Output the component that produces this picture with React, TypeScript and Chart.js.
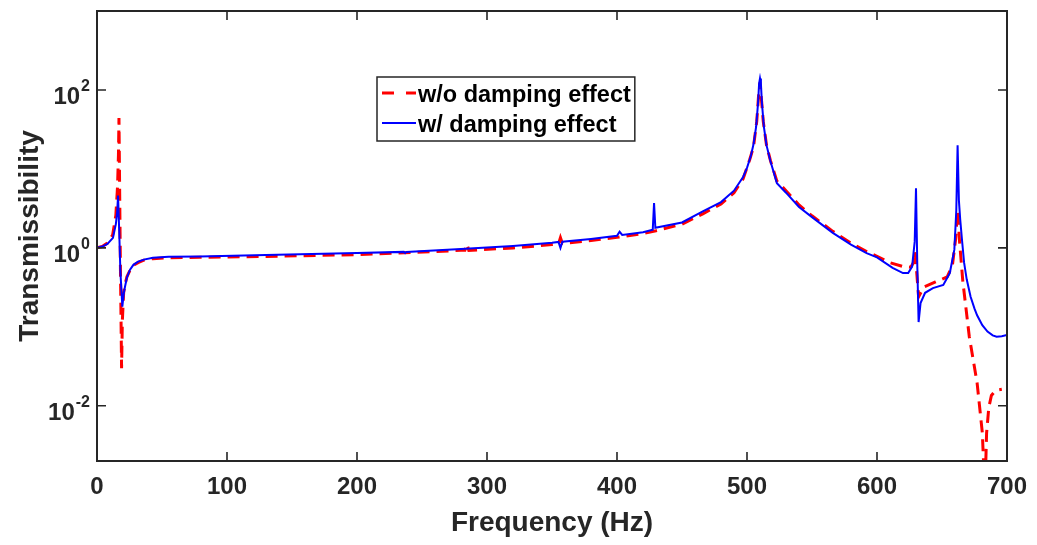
import React, { useEffect, useRef } from 'react';
import { Chart, registerables } from 'chart.js';

Chart.register(...registerables);

// ---- Data ----
const seriesLabels = ['w/o damping effect', 'w/ damping effect'];

const freqUndamped = [
  0, 4, 8, 12, 14.5, 15.8, 16.5, 16.9, 17.4, 18, 18.5, 18.9, 19.5, 20.5, 21.5, 23, 25.4, 28, 31.6, 36, 43, 55, 79,
  130, 200, 280, 283, 284.5, 286, 320, 350, 355, 356.5, 358, 380, 400, 420, 430, 450, 466, 480, 490, 497, 502,
  505, 507.5, 509, 510, 511, 512.5, 515, 518, 523, 530, 540, 550, 566, 580, 592, 600, 610, 620, 626, 628, 629.3,
  630.5, 632, 636, 645, 654, 658, 660.5, 662, 663.5, 666, 671, 677, 681, 682.5, 683.5, 684.3, 686, 688, 691, 694,
  696,
];
const transUndamped = [
  1.0, 1.04, 1.15, 1.45, 2.6, 6, 15, 44, 6, 0.6, 0.12, 0.03, 0.12, 0.27, 0.34, 0.43, 0.52, 0.6, 0.65, 0.7, 0.73,
  0.75, 0.76, 0.78, 0.82, 0.93, 0.93, 1.12, 0.93, 1.0, 1.1, 1.12, 1.35, 1.14, 1.24, 1.36, 1.52, 1.65, 2.0, 2.7,
  3.6, 5.0, 7.5, 13, 19, 40, 90, 125, 80, 40, 20, 12.8, 7.0, 5.3, 3.5, 2.55, 1.62, 1.15, 0.9, 0.78, 0.65, 0.58,
  0.57, 0.65, 0.9, 0.5, 0.24, 0.32, 0.37, 0.43, 0.6, 1.3, 3.0, 1.2, 0.38, 0.075, 0.0195, 0.0046, 0.0012, 0.0015,
  0.0045, 0.0095, 0.0135, 0.0155, 0.016, 0.0162,
];

const freqDamped = [
  0, 4, 8, 12.3, 14.5, 15.5, 16.2, 17, 18, 19.5, 20.5, 21.5, 23, 25.4, 28, 31.6, 36, 43, 55, 79, 130, 200, 236,
  237, 238, 280, 320, 350, 355, 356.5, 358, 380, 400, 402, 404, 420, 427.5, 428.5, 429.5, 450, 466, 480, 490,
  497, 500, 503, 505, 507, 508.5, 509.3, 510, 510.7, 511.5, 513, 515, 518, 523, 530, 540, 550, 566, 580, 592,
  600, 612, 620, 624, 627, 629, 630, 631, 632, 633.5, 637, 643, 651, 656, 659.5, 661, 662, 663, 664, 665.5, 667,
  669, 672, 675, 677, 681, 685, 689, 692, 696, 700,
];
const transDamped = [
  1.0, 1.04, 1.12, 1.34, 2.0, 2.8, 4.6, 1.8, 0.5, 0.18, 0.26, 0.32, 0.42, 0.53, 0.61, 0.67, 0.71, 0.75, 0.77,
  0.78, 0.81, 0.86, 0.89, 0.86, 0.89, 0.97, 1.06, 1.16, 1.19, 1.0, 1.2, 1.3, 1.42, 1.6, 1.46, 1.58, 1.7, 3.7,
  1.8, 2.1, 2.9, 3.8, 5.3, 7.9, 10.3, 14.7, 20.5, 34, 68, 120, 140, 120, 68, 34, 20, 12.6, 6.6, 5.0, 3.3, 2.45,
  1.55, 1.1, 0.86, 0.76, 0.56, 0.48, 0.48, 0.58, 1.2, 5.7, 0.6, 0.115, 0.2, 0.27, 0.31, 0.34, 0.48, 0.95, 3.0,
  20, 4.0, 2.3, 1.2, 0.65, 0.4, 0.24, 0.17, 0.14, 0.105, 0.087, 0.078, 0.075, 0.076, 0.079,
];

const xTickValues = [0, 100, 200, 300, 400, 500, 600, 700];
const yTickExponents = [-2, 0, 2];
const yMin = 0.002;
const yMax = 1000;

const FONT = '"Liberation Sans", Arial, Helvetica, sans-serif';
const AXIS_COLOR = '#262626';
const RED = '#FF0000';
const BLUE = '#0000FF';

export default function App() {
  const canvasRef = useRef<HTMLCanvasElement>(null);

  useEffect(() => {
    const canvas = canvasRef.current;
    if (!canvas) return;

    const framePlugin = {
      id: 'matlabFrame',
      afterDatasetsDraw(chart: any) {
        const { ctx, chartArea: a, scales } = chart;
        const xs = scales.x;
        const ys = scales.y;
        ctx.save();
        // box
        ctx.strokeStyle = AXIS_COLOR;
        ctx.lineWidth = 2;
        ctx.strokeRect(a.left, a.top, a.right - a.left, a.bottom - a.top);
        // inward ticks
        const TL = 9;
        ctx.lineWidth = 1.6;
        ctx.beginPath();
        for (const t of xs.ticks) {
          const px = xs.getPixelForValue(t.value);
          if (px <= a.left + 1 || px >= a.right - 1) continue;
          ctx.moveTo(px, a.bottom);
          ctx.lineTo(px, a.bottom - TL);
          ctx.moveTo(px, a.top);
          ctx.lineTo(px, a.top + TL);
        }
        for (const t of ys.ticks) {
          const py = ys.getPixelForValue(t.value);
          ctx.moveTo(a.left, py);
          ctx.lineTo(a.left + TL, py);
          ctx.moveTo(a.right, py);
          ctx.lineTo(a.right - TL, py);
        }
        ctx.stroke();

        // y tick labels with superscript exponents
        ctx.fillStyle = AXIS_COLOR;
        ctx.textBaseline = 'alphabetic';
        for (const t of ys.ticks) {
          const py = ys.getPixelForValue(t.value);
          const exp = String(Math.round(Math.log10(t.value)));
          ctx.font = `bold 16px ${FONT}`;
          const ew = ctx.measureText(exp).width;
          const rightEdge = a.left - 7;
          const ex = rightEdge - ew;
          ctx.textAlign = 'left';
          ctx.fillText(exp, ex, py + 1);
          ctx.font = `bold 24px ${FONT}`;
          ctx.textAlign = 'right';
          ctx.fillText('10', ex - 1, py + 14);
        }

        // legend box
        const bx = a.left + 280;
        const by = a.top + 66;
        ctx.font = `bold 23.5px ${FONT}`;
        const tw = Math.max(...seriesLabels.map((s) => ctx.measureText(s).width));
        const tx = a.left + 321;
        const bw = tx + tw + 4 - bx;
        const bh = 64;
        ctx.fillStyle = '#FFFFFF';
        ctx.fillRect(bx, by, bw, bh);
        ctx.strokeStyle = AXIS_COLOR;
        ctx.lineWidth = 1.5;
        ctx.strokeRect(bx, by, bw, bh);
        // samples
        ctx.lineWidth = 3;
        ctx.strokeStyle = RED;
        ctx.setLineDash([12, 12]);
        ctx.beginPath();
        ctx.moveTo(a.left + 285, a.top + 82);
        ctx.lineTo(a.left + 319, a.top + 82);
        ctx.stroke();
        ctx.setLineDash([]);
        ctx.lineWidth = 2;
        ctx.strokeStyle = BLUE;
        ctx.beginPath();
        ctx.moveTo(a.left + 285, a.top + 112);
        ctx.lineTo(a.left + 319, a.top + 112);
        ctx.stroke();
        ctx.fillStyle = '#000000';
        ctx.textAlign = 'left';
        ctx.fillText(seriesLabels[0], tx, a.top + 91);
        ctx.fillText(seriesLabels[1], tx, a.top + 121);
        ctx.restore();
      },
    };

    const chart = new Chart(canvas, {
      type: 'line',
      data: {
        datasets: [
          {
            label: seriesLabels[1],
            data: freqDamped.map((f, i) => ({ x: f, y: transDamped[i] })),
            borderColor: BLUE,
            borderWidth: 2,
            pointRadius: 0,
            tension: 0,
            fill: false,
            order: 0,
            clip: 0,
          },
          {
            label: seriesLabels[0],
            data: freqUndamped.map((f, i) => ({ x: f, y: transUndamped[i] })),
            borderColor: RED,
            borderWidth: 3,
            borderDash: [12, 7],
            pointRadius: 0,
            tension: 0,
            fill: false,
            order: 1,
            clip: 0,
          },
        ],
      },
      options: {
        animation: false,
        responsive: true,
        maintainAspectRatio: false,
        layout: { padding: { top: 3, right: 22, bottom: 0, left: 0 } },
        plugins: { legend: { display: false }, tooltip: { enabled: false } },
        scales: {
          x: {
            type: 'linear',
            min: 0,
            max: 700,
            afterBuildTicks: (scale: any) => {
              scale.ticks = xTickValues.map((v) => ({ value: v }));
            },
            ticks: {
              font: { family: FONT, size: 24, weight: 'bold' },
              color: AXIS_COLOR,
              padding: 12,
              maxRotation: 0,
              autoSkip: false,
            },
            grid: { display: false, drawTicks: false },
            border: { display: false },
            title: {
              display: true,
              text: 'Frequency (Hz)',
              font: { family: FONT, size: 28, weight: 'bold' },
              color: AXIS_COLOR,
              padding: { top: 0, bottom: -3 },
            },
            afterFit: (scale: any) => {
              scale.height = 76;
              scale.paddingLeft = 0;
              scale.paddingRight = 0;
            },
          },
          y: {
            type: 'logarithmic',
            min: yMin,
            max: yMax,
            afterBuildTicks: (scale: any) => {
              scale.ticks = yTickExponents.map((e) => ({ value: Math.pow(10, e) }));
            },
            ticks: { display: false },
            grid: { display: false, drawTicks: false },
            border: { display: false },
            title: {
              display: true,
              text: 'Transmissibility',
              font: { family: FONT, size: 28, weight: 'bold' },
              color: AXIS_COLOR,
              padding: { top: 5, bottom: 0 },
            },
            afterFit: (scale: any) => {
              scale.width = 89;
              scale.paddingTop = 0;
              scale.paddingBottom = 0;
            },
          },
        },
      },
      plugins: [framePlugin],
    });

    return () => chart.destroy();
  }, []);

  return (
    <div style={{ position: 'relative', width: '100%', height: 529 }}>
      <canvas ref={canvasRef} />
    </div>
  );
}
